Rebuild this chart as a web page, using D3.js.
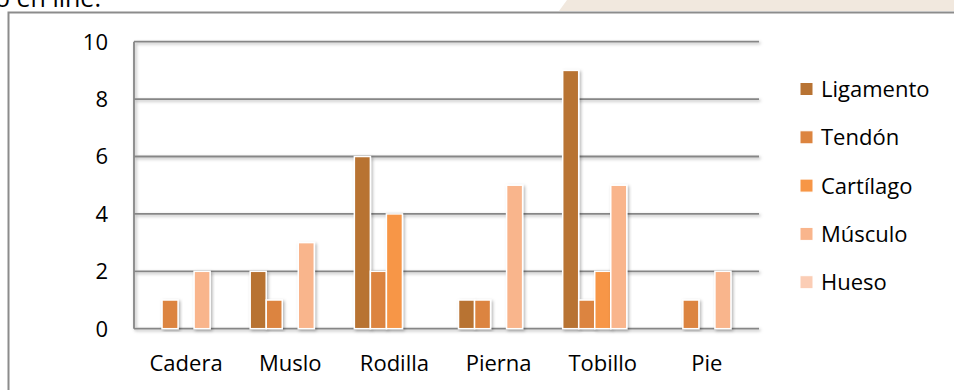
<!DOCTYPE html>
<html>
<head>
<meta charset="utf-8">
<script src="https://cdn.jsdelivr.net/npm/d3@7.9.0/dist/d3.min.js"></script>
<style>
  html, body { margin: 0; padding: 0; background: #fff; }
  svg { display: block; font-family: 'Open Sans', 'Noto Sans', sans-serif; }
</style>
</head>
<body>
<svg id="chart" width="954" height="390"></svg>
<script>
const categories = ['Cadera', 'Muslo', 'Rodilla', 'Pierna', 'Tobillo', 'Pie'];
const seriesNames = ['Ligamento', 'Tendón', 'Cartílago', 'Músculo', 'Hueso'];
const ligamento = [0, 2, 6, 1, 9, 0];
const tendon = [1, 1, 2, 1, 1, 1];
const cartilago = [0, 0, 4, 0, 2, 0];
const musculo = [2, 3, 0, 5, 5, 2];
const hueso = [0, 0, 0, 0, 0, 0];
const yTicks = [0, 2, 4, 6, 8, 10];

const seriesValues = [ligamento, tendon, cartilago, musculo, hueso];
const colors = ['#b87333', '#dc843f', '#f79646', '#f9b58c', '#fbcdb5'];

const svg = d3.select('#chart');

// background bits from the page around the chart
svg.append('polygon')
  .attr('points', '567,0 954,0 954,11 559,11')
  .attr('fill', '#f1e8de');
svg.append('text')
  .attr('x', -5).attr('y', 7)
  .attr('font-size', 25).attr('fill', '#000')
  .text('o en line.');

// chart frame
svg.append('rect')
  .attr('x', 8.5).attr('y', 12.5)
  .attr('width', 960).attr('height', 400)
  .attr('fill', '#fff')
  .attr('stroke', '#8c8c8c').attr('stroke-width', 2);

const defs = svg.append('defs');
const shadow = defs.append('filter').attr('id', 'shadow')
  .attr('x', '-30%').attr('y', '-10%').attr('width', '160%').attr('height', '120%');
shadow.append('feDropShadow')
  .attr('dx', 1.5).attr('dy', 1.5).attr('stdDeviation', 1.5)
  .attr('flood-color', '#000').attr('flood-opacity', 0.3);

const plot = { left: 134, right: 759, top: 41.7, bottom: 328.7 };

const x0 = d3.scaleBand().domain(categories).range([plot.left, plot.right]);
const x1 = d3.scaleBand().domain(seriesNames)
  .range([0, x0.bandwidth()]).paddingInner(0).paddingOuter(0.75);
const y = d3.scaleLinear().domain([0, 10]).range([plot.bottom, plot.top]);

// gridlines
const grid = svg.append('g').attr('filter', 'url(#shadow)');
grid.selectAll('line')
  .data(yTicks)
  .join('line')
  .attr('x1', plot.left).attr('x2', plot.right)
  .attr('y1', (d) => y(d)).attr('y2', (d) => y(d))
  .attr('stroke', '#868686').attr('stroke-width', 1.8);
grid.append('line')
  .attr('x1', plot.left).attr('x2', plot.left)
  .attr('y1', plot.top).attr('y2', plot.bottom)
  .attr('stroke', '#868686').attr('stroke-width', 1.8);

// y tick labels
svg.append('g')
  .selectAll('text')
  .data(yTicks)
  .join('text')
  .attr('x', 108).attr('y', (d) => y(d))
  .attr('dy', '0.36em')
  .attr('text-anchor', 'end')
  .attr('font-size', 22).attr('fill', '#000')
  .text((d) => d);

// bars
const rows = [];
categories.forEach((c, ci) => {
  seriesNames.forEach((s, si) => {
    const v = seriesValues[si][ci];
    if (v > 0) rows.push({ cat: c, series: s, value: v, color: colors[si] });
  });
});

svg.append('g')
  .selectAll('rect')
  .data(rows)
  .join('rect')
  .attr('x', (d) => x0(d.cat) + x1(d.series))
  .attr('y', (d) => y(d.value))
  .attr('width', x1.bandwidth())
  .attr('height', (d) => y(0) - y(d.value))
  .attr('fill', (d) => d.color)
  .attr('stroke', '#fff').attr('stroke-width', 1.5)
  .attr('filter', 'url(#shadow)');

// category labels
svg.append('g')
  .selectAll('text')
  .data(categories)
  .join('text')
  .attr('x', (d) => x0(d) + x0.bandwidth() / 2)
  .attr('y', 371)
  .attr('text-anchor', 'middle')
  .attr('font-size', 22).attr('fill', '#000')
  .text((d) => d);

// legend
const legend = svg.append('g')
  .selectAll('g')
  .data(seriesNames)
  .join('g')
  .attr('transform', (d, i) => `translate(800, ${89 + i * 48.3})`);
legend.append('rect')
  .attr('x', 0).attr('y', -6.5)
  .attr('width', 13).attr('height', 13)
  .attr('fill', (d, i) => colors[i])
  .attr('stroke', '#fff').attr('stroke-width', 1);
legend.append('text')
  .attr('x', 21).attr('y', 0).attr('dy', '0.36em')
  .attr('font-size', 22).attr('fill', '#000')
  .text((d) => d);
</script>
</body>
</html>
